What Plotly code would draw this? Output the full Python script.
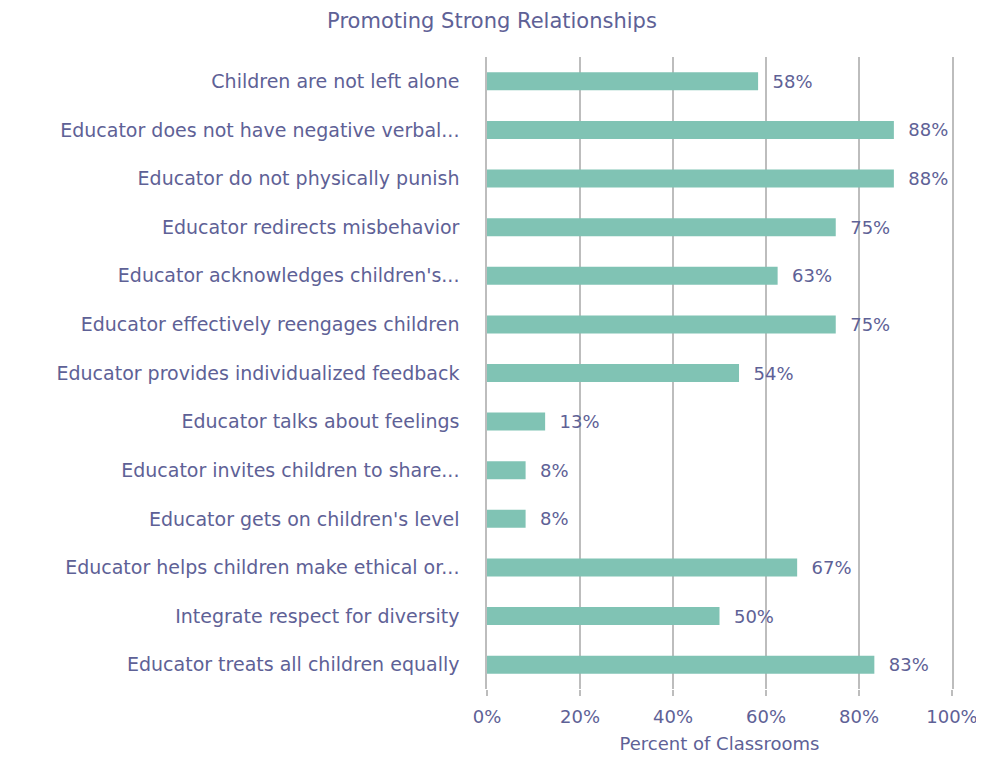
import plotly.graph_objects as go

categories = [
    "Children are not left alone",
    "Educator does not have negative verbal...",
    "Educator do not physically punish",
    "Educator redirects misbehavior",
    "Educator acknowledges children's...",
    "Educator effectively reengages children",
    "Educator provides individualized feedback",
    "Educator talks about feelings",
    "Educator invites children to share...",
    "Educator gets on children's level",
    "Educator helps children make ethical or...",
    "Integrate respect for diversity",
    "Educator treats all children equally",
]
values = [58.3, 87.5, 87.5, 75.0, 62.5, 75.0, 54.2, 12.5, 8.3, 8.3, 66.7, 50.0, 83.3]
value_labels = ["58%", "88%", "88%", "75%", "63%", "75%", "54%", "13%", "8%", "8%", "67%", "50%", "83%"]
x_ticks = [0, 20, 40, 60, 80, 100]
x_tick_labels = ["0%", "20%", "40%", "60%", "80%", "100%"]

text_color = "#5E6196"
bar_color = "#80C3B4"
grid_color = "#BDBDBD"
font_family = "DejaVu Sans"

W, H = 976, 750

fig = go.Figure(
    go.Bar(
        x=values,
        y=categories,
        orientation="h",
        marker=dict(color=bar_color, line=dict(width=0)),
        width=0.37,
        text=["\u00a0\u00a0" + t for t in value_labels],
        textposition="outside",
        constraintext="none",
        textfont=dict(color=text_color, size=18, family=font_family),
        cliponaxis=False,
        hoverinfo="x+y",
    )
)

fig.update_layout(
    width=W,
    height=H,
    paper_bgcolor="white",
    plot_bgcolor="white",
    margin=dict(l=479, r=32, t=49, b=69, autoexpand=False),
    title=dict(
        text="Promoting Strong Relationships",
        x=484 / W,
        xanchor="center",
        y=1 - 13 / H,
        yanchor="middle",
        font=dict(size=21, color=text_color, family=font_family),
    ),
    font=dict(family=font_family, color=text_color),
    showlegend=False,
)

fig.update_xaxes(
    range=[0, 100],
    tickvals=x_ticks,
    ticktext=x_tick_labels,
    showgrid=True,
    gridcolor=grid_color,
    gridwidth=1.5,
    zeroline=False,
    showline=False,
    ticks="outside",
    ticklen=6,
    tickcolor=grid_color,
    tickwidth=1.5,
    ticklabelstandoff=5,
    tickfont=dict(size=18, color=text_color, family=font_family),
    title=dict(text="Percent of Classrooms", font=dict(size=18, color=text_color, family=font_family), standoff=11),
)

fig.update_yaxes(
    autorange="reversed",
    showgrid=False,
    showline=True,
    mirror=True,
    linecolor=grid_color,
    linewidth=1.5,
    zeroline=False,
    ticks="",
    ticklabelstandoff=22,
    tickfont=dict(size=19, color=text_color, family=font_family),
)

fig.write_html("out.html")
